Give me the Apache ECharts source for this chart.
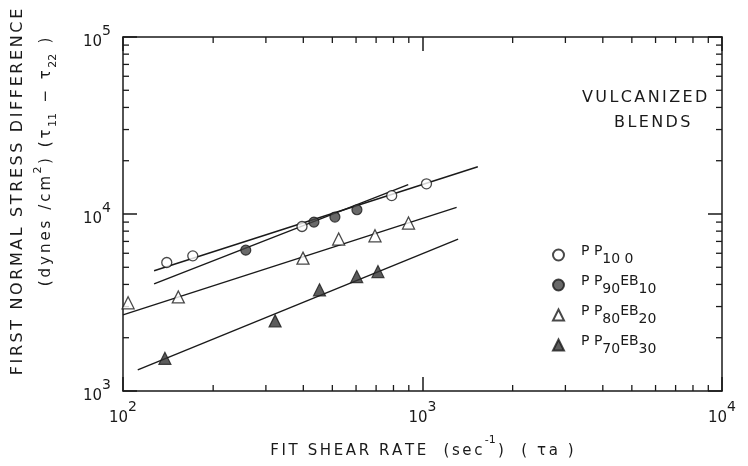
<!DOCTYPE html>
<html>
<head>
<meta charset="utf-8">
<title>First normal stress difference - vulcanized blends</title>
<script src="https://cdn.jsdelivr.net/npm/echarts@6/dist/echarts.min.js"></script>
<style>
body{margin:0;background:#fff;}
#main{width:748px;height:466px;}
</style>
</head>
<body>
<div id="main"></div>
<script>
// 读图估计的数据
var pp100X = [140, 171, 396, 789, 1031];
var pp100Y = [5320, 5800, 8500, 12700, 14800];
var pp90X = [257, 434, 510, 604];
var pp90Y = [6250, 9000, 9610, 10570];
var pp80X = [104, 153, 399, 525, 694, 898];
var pp80Y = [3150, 3400, 5630, 7220, 7530, 8890];
var pp70X = [138, 322, 453, 603, 710];
var pp70Y = [1530, 2490, 3730, 4430, 4730];

// 拟合直线 (两个端点)
var fit100X = [127, 1530], fit100Y = [4780, 18500];
var fit90X = [127, 896], fit90Y = [4030, 14640];
var fit80X = [100, 1300], fit80Y = [2690, 10890];
var fit70X = [112, 1315], fit70Y = [1315, 7220];

// 次刻度
var minorX = [200, 300, 400, 500, 600, 700, 800, 900, 2000, 3000, 4000, 5000, 6000, 7000, 8000, 9000];
var minorY = [2000, 3000, 4000, 5000, 6000, 7000, 8000, 9000, 20000, 30000, 40000, 50000, 60000, 70000, 80000, 90000];

var legendNames = ['PP100', 'PP90EB10', 'PP80EB20', 'PP70EB30'];
var legendRich = {
  'PP100': '{a|P P}{b|10 0}',
  'PP90EB10': '{a|P P}{b|90}{a|EB}{b|10}',
  'PP80EB20': '{a|P P}{b|80}{a|EB}{b|20}',
  'PP70EB30': '{a|P P}{b|70}{a|EB}{b|30}'
};

function zip(xs, ys) {
  return xs.map(function (x, i) { return [x, ys[i]]; });
}
// 字间距: 每个字符一个 rich 片段
function ls(str, key) {
  return str.split('').map(function (c) { return '{' + key + '|' + c + '}'; }).join('');
}

var ink = '#1a1a1a';
var font = 'DejaVu Sans';

var tickData = [];
minorX.forEach(function (v) { tickData.push([v, 1000, 0]); });
minorY.forEach(function (v) { tickData.push([100, v, 1]); });

var myChart = echarts.init(document.getElementById('main'));

var supLabel = {
  color: ink,
  fontFamily: font,
  formatter: function (v) {
    return '{b|10}{p|' + Math.round(Math.log10(v)) + '}';
  },
  rich: {
    b: { fontSize: 15, fontFamily: font, color: ink, lineHeight: 26, verticalAlign: 'bottom' },
    p: { fontSize: 14, fontFamily: font, color: ink, lineHeight: 26, verticalAlign: 'top' }
  }
};

var axisCommon = {
  axisLine: { lineStyle: { color: ink, width: 1.5 } },
  axisTick: { inside: true, length: 14, lineStyle: { color: ink, width: 1.5 } },
  splitLine: { show: false }
};

var option = {
  backgroundColor: '#fff',
  animation: false,
  grid: { left: 123, right: 26, top: 37, bottom: 75 },
  xAxis: [
    Object.assign({ type: 'log', min: 100, max: 10000, position: 'bottom',
      axisLabel: Object.assign({ margin: 9 }, supLabel) }, axisCommon),
    Object.assign({ type: 'log', min: 100, max: 10000, position: 'top',
      axisLabel: { show: false } }, axisCommon)
  ],
  yAxis: [
    Object.assign({ type: 'log', min: 1000, max: 100000, position: 'left',
      axisLabel: Object.assign({ margin: 12 }, supLabel) }, axisCommon),
    Object.assign({ type: 'log', min: 1000, max: 100000, position: 'right',
      axisLabel: { show: false } }, axisCommon)
  ],
  legend: {
    data: legendNames,
    orient: 'vertical',
    left: 547,
    top: 239,
    itemWidth: 11,
    itemHeight: 11,
    itemGap: 8,
    formatter: function (name) { return legendRich[name]; },
    textStyle: {
      color: ink,
      padding: [0, 0, 0, 12],
      rich: {
        a: { fontSize: 14, fontFamily: font, color: ink, lineHeight: 22, verticalAlign: 'top' },
        b: { fontSize: 14, fontFamily: font, color: ink, lineHeight: 22, verticalAlign: 'bottom' }
      }
    }
  },
  graphic: [
    {
      type: 'text', left: 582, top: 90,
      style: { text: ls('VULCANIZED', 'c'), rich: { c: { fontSize: 16, fontFamily: font, fill: ink, padding: [0, 1.2, 0, 1.2] } } }
    },
    {
      type: 'text', left: 614, top: 115,
      style: { text: ls('BLENDS', 'c'), rich: { c: { fontSize: 16, fontFamily: font, fill: ink, padding: [0, 1.2, 0, 1.2] } } }
    },
    {
      type: 'text', x: 422, y: 447,
      style: {
        text: ls('FIT SHEAR RATE  (sec', 't') + '{p|-1}' + ls(')  ( τa )', 't'),
        align: 'center', verticalAlign: 'middle',
        rich: {
          t: { fontSize: 15, fontFamily: font, fill: ink, lineHeight: 24, verticalAlign: 'bottom', padding: [0, 1.3, 0, 1.3] },
          p: { fontSize: 11, fontFamily: font, fill: ink, lineHeight: 24, verticalAlign: 'top', padding: [0, 1, 0, 1] }
        }
      }
    },
    {
      type: 'text', x: 18, y: 192, rotation: Math.PI / 2,
      style: {
        text: ls('FIRST NORMAL STRESS DIFFERENCE', 't'),
        align: 'center', verticalAlign: 'middle',
        rich: { t: { fontSize: 16, fontFamily: font, fill: ink, padding: [0, 1.3, 0, 1.3] } }
      }
    },
    {
      type: 'text', x: 46, y: 162, rotation: Math.PI / 2,
      style: {
        text: ls('(dynes /cm', 't') + '{p|2}' + ls(') (τ', 't') + '{s|11}' + ls(' − τ', 't') + '{s|22}' + ls(' )', 't'),
        align: 'center', verticalAlign: 'middle',
        rich: {
          t: { fontSize: 15, fontFamily: font, fill: ink, lineHeight: 26, verticalAlign: 'middle', padding: [0, 1.5, 0, 1.5] },
          p: { fontSize: 11, fontFamily: font, fill: ink, lineHeight: 26, verticalAlign: 'top', padding: [0, 1, 0, 1] },
          s: { fontSize: 11, fontFamily: font, fill: ink, lineHeight: 26, verticalAlign: 'bottom', padding: [0, 1, 0, 1] }
        }
      }
    }
  ],
  series: [
    {
      type: 'custom', silent: true, clip: false,
      renderItem: function (params, api) {
        var cs = params.coordSys;
        var len = 6;
        var style = { stroke: ink, lineWidth: 1.3 };
        if (api.value(2) === 0) {
          var px = api.coord([api.value(0), 1000])[0];
          return { type: 'group', children: [
            { type: 'line', shape: { x1: px, y1: cs.y + cs.height, x2: px, y2: cs.y + cs.height - len }, style: style },
            { type: 'line', shape: { x1: px, y1: cs.y, x2: px, y2: cs.y + len }, style: style }
          ] };
        }
        var py = api.coord([100, api.value(1)])[1];
        return { type: 'group', children: [
          { type: 'line', shape: { x1: cs.x, y1: py, x2: cs.x + len, y2: py }, style: style },
          { type: 'line', shape: { x1: cs.x + cs.width - len, y1: py, x2: cs.x + cs.width, y2: py }, style: style }
        ] };
      },
      data: tickData
    },
    { type: 'line', data: zip(fit100X, fit100Y), symbol: 'none', silent: true, lineStyle: { color: ink, width: 1.4 } },
    { type: 'line', data: zip(fit90X, fit90Y), symbol: 'none', silent: true, lineStyle: { color: ink, width: 1.4 } },
    { type: 'line', data: zip(fit80X, fit80Y), symbol: 'none', silent: true, lineStyle: { color: ink, width: 1.4 } },
    { type: 'line', data: zip(fit70X, fit70Y), symbol: 'none', silent: true, lineStyle: { color: ink, width: 1.4 } },
    {
      name: 'PP100', type: 'scatter', data: zip(pp100X, pp100Y), symbol: 'circle', symbolSize: 10,
      itemStyle: { color: '#fff', borderColor: ink, borderWidth: 1.3 }, z: 5
    },
    {
      name: 'PP90EB10', type: 'scatter', data: zip(pp90X, pp90Y), symbol: 'circle', symbolSize: 10,
      itemStyle: { color: '#444', borderColor: ink, borderWidth: 1.2 }, z: 5
    },
    {
      name: 'PP80EB20', type: 'scatter', data: zip(pp80X, pp80Y), symbol: 'triangle', symbolSize: 12,
      itemStyle: { color: '#fff', borderColor: ink, borderWidth: 1.3 }, z: 5
    },
    {
      name: 'PP70EB30', type: 'scatter', data: zip(pp70X, pp70Y), symbol: 'triangle', symbolSize: 12,
      itemStyle: { color: '#333', borderColor: ink, borderWidth: 1.2 }, z: 5
    }
  ]
};

myChart.setOption(option);
</script>
</body>
</html>
